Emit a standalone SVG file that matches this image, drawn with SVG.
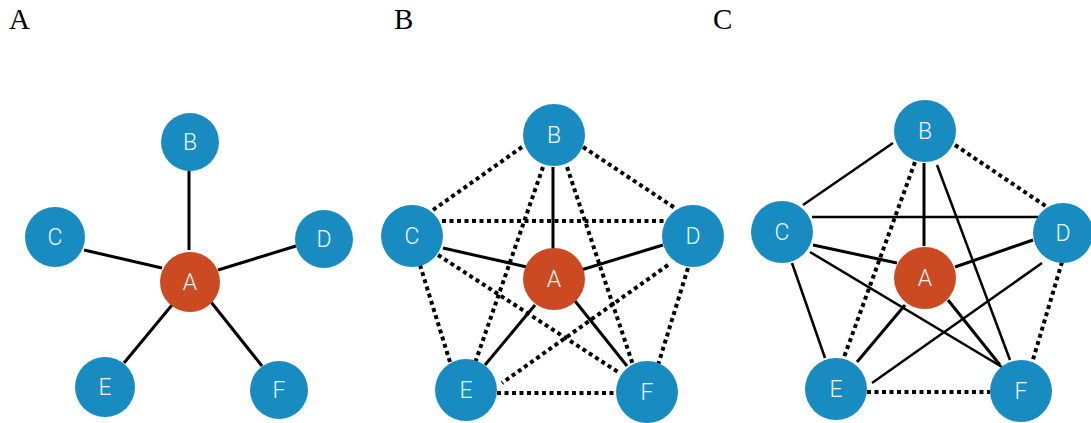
<svg xmlns="http://www.w3.org/2000/svg" width="1091" height="423" viewBox="0 0 1091 423">
  <style>
    .title { font-family: "Liberation Serif", "Times New Roman", serif; font-size: 29px; fill: #000; }
    .solid { stroke: #000; stroke-width: 3; fill: none; }
    .thin { stroke: #000; stroke-width: 2.5; fill: none; }
    .dot { stroke: #000; stroke-width: 4; stroke-dasharray: 4 3.5; fill: none; }
    .leaf { fill: #188cc0; }
    .hub { fill: #cc4a22; }
    .lbl { font-family: Roboto, "Liberation Sans", Arial, sans-serif; font-weight: 300; font-size: 23px; fill: #eef6fa; text-anchor: middle; dominant-baseline: central; }
  </style>

  <!-- panel captions -->
  <g id="captions">
    <text class="title" x="9" y="29">A</text>
    <text class="title" x="394" y="29">B</text>
    <text class="title" x="713" y="29">C</text>
  </g>

  <!-- ===== Panel A: star ===== -->
  <g id="edges-a">
    <line class="solid" x1="189" y1="170" x2="189" y2="250"/>
    <line class="solid" x1="84" y1="250" x2="162" y2="268"/>
    <line class="solid" x1="218" y1="270" x2="296" y2="246"/>
    <line class="solid" x1="172" y1="305" x2="124" y2="363"/>
    <line class="solid" x1="211" y1="302" x2="262" y2="366"/>
  </g>
  <g id="a-B"><circle class="leaf" cx="190" cy="142" r="29"/><text class="lbl" x="190" y="142">B</text></g>
  <g id="a-C"><circle class="leaf" cx="55" cy="237" r="30"/><text class="lbl" x="55" y="237">C</text></g>
  <g id="a-D"><circle class="leaf" cx="324" cy="239" r="29"/><text class="lbl" x="324" y="239">D</text></g>
  <g id="a-A"><circle class="hub" cx="190" cy="282" r="30"/><text class="lbl" x="190" y="282">A</text></g>
  <g id="a-E"><circle class="leaf" cx="105" cy="387" r="30"/><text class="lbl" x="105" y="387">E</text></g>
  <g id="a-F"><circle class="leaf" cx="279" cy="390" r="29"/><text class="lbl" x="279" y="390">F</text></g>

  <!-- ===== Panel B: hub solid, rest dotted ===== -->
  <g id="edges-b">
    <line class="dot" x1="522" y1="147" x2="433" y2="210"/>
    <line class="dot" x1="583" y1="147" x2="675" y2="208"/>
    <line class="dot" x1="442" y1="221" x2="665" y2="221"/>
    <line class="dot" x1="543" y1="167" x2="475" y2="363"/>
    <line class="dot" x1="567" y1="167" x2="633" y2="365"/>
    <line class="dot" x1="420" y1="265" x2="450" y2="362"/>
    <line class="dot" x1="438" y1="255" x2="618" y2="372"/>
    <line class="dot" x1="668" y1="265" x2="502" y2="383"/>
    <line class="dot" x1="688" y1="268" x2="658" y2="365"/>
    <line class="dot" x1="497" y1="393" x2="617" y2="393"/>
    <line class="solid" x1="553" y1="167" x2="553" y2="250"/>
    <line class="solid" x1="443" y1="248" x2="527" y2="267"/>
    <line class="solid" x1="581" y1="270" x2="663" y2="245"/>
    <line class="solid" x1="535" y1="305" x2="485" y2="365"/>
    <line class="solid" x1="575" y1="301" x2="627" y2="366"/>
  </g>
  <g id="b-B"><circle class="leaf" cx="554" cy="135" r="31"/><text class="lbl" x="554" y="135">B</text></g>
  <g id="b-C"><circle class="leaf" cx="412" cy="236" r="31"/><text class="lbl" x="412" y="236">C</text></g>
  <g id="b-D"><circle class="leaf" cx="693" cy="236" r="31"/><text class="lbl" x="693" y="236">D</text></g>
  <g id="b-A"><circle class="hub" cx="554" cy="279" r="31"/><text class="lbl" x="554" y="279">A</text></g>
  <g id="b-E"><circle class="leaf" cx="466" cy="390" r="31"/><text class="lbl" x="466" y="390">E</text></g>
  <g id="b-F"><circle class="leaf" cx="647" cy="392" r="31"/><text class="lbl" x="647" y="392">F</text></g>

  <!-- ===== Panel C: mostly solid ===== -->
  <g id="edges-c">
    <line class="dot" x1="955" y1="145" x2="1047" y2="207"/>
    <line class="dot" x1="915" y1="162" x2="843" y2="360"/>
    <line class="dot" x1="1062" y1="262" x2="1032" y2="363"/>
    <line class="dot" x1="867" y1="392" x2="990" y2="392"/>
    <line class="thin" x1="893" y1="143" x2="803" y2="205"/>
    <line class="thin" x1="812" y1="217" x2="1038" y2="217"/>
    <line class="thin" x1="937" y1="165" x2="1010" y2="360"/>
    <line class="thin" x1="792" y1="263" x2="825" y2="358"/>
    <line class="thin" x1="810" y1="252" x2="1002" y2="367"/>
    <line class="thin" x1="1042" y1="263" x2="872" y2="383"/>
    <line class="solid" x1="924" y1="163" x2="924" y2="246"/>
    <line class="solid" x1="813" y1="245" x2="897" y2="263"/>
    <line class="solid" x1="1033" y1="240" x2="955" y2="267"/>
    <line class="solid" x1="905" y1="305" x2="857" y2="362"/>
    <line class="solid" x1="948" y1="300" x2="1000" y2="365"/>
  </g>
  <g id="c-B"><circle class="leaf" cx="925" cy="131" r="31"/><text class="lbl" x="925" y="131">B</text></g>
  <g id="c-C"><circle class="leaf" cx="782" cy="232" r="31"/><text class="lbl" x="782" y="232">C</text></g>
  <g id="c-D"><circle class="leaf" cx="1063" cy="233" r="30"/><text class="lbl" x="1063" y="233">D</text></g>
  <g id="c-A"><circle class="hub" cx="925" cy="278" r="31"/><text class="lbl" x="925" y="278">A</text></g>
  <g id="c-E"><circle class="leaf" cx="836" cy="389" r="31"/><text class="lbl" x="836" y="389">E</text></g>
  <g id="c-F"><circle class="leaf" cx="1021" cy="391" r="31"/><text class="lbl" x="1021" y="391">F</text></g>
</svg>
